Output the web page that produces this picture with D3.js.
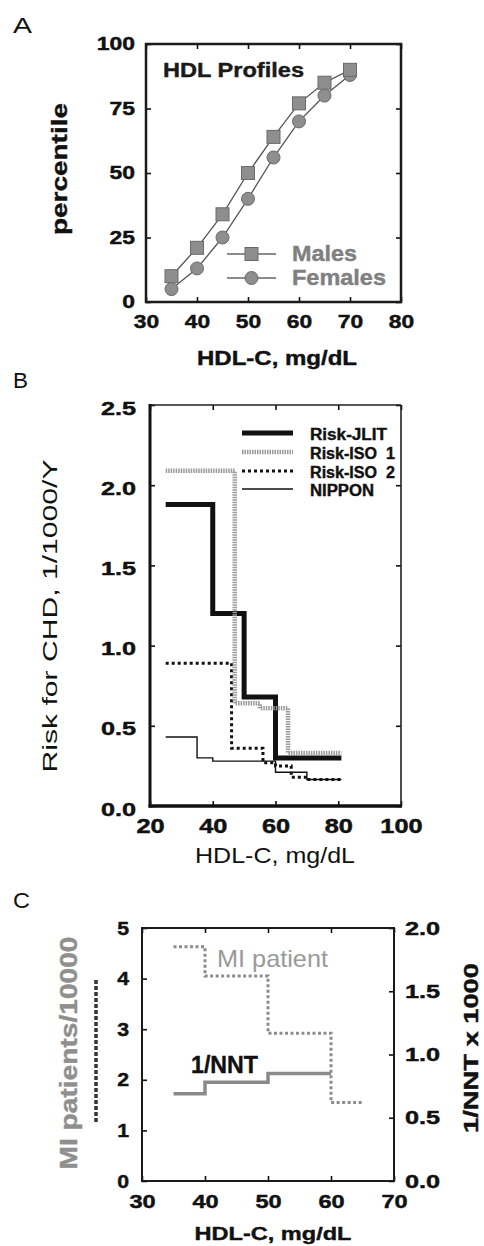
<!DOCTYPE html>
<html><head><meta charset="utf-8">
<script src="https://cdn.jsdelivr.net/npm/d3@7"></script>
<style>html,body{margin:0;padding:0;background:#fff;}svg{display:block;}</style>
</head><body>
<script>
// ---------- DATA ----------
// Panel A
const hdlA = [35, 40, 45, 50, 55, 60, 65, 70];
const malesPct = [10, 21, 34, 50, 64, 77, 85, 90];
const femalesPct = [5, 13, 25, 40, 56, 70, 80, 88];
const xTicksA = [30, 40, 50, 60, 70, 80];
const yTicksA = [0, 25, 50, 75, 100];
const legendA = ["Males", "Females"];
// Panel B (step functions: edges and levels)
const jlitX = [25, 40, 50, 60, 81];
const jlitY = [1.88, 1.20, 0.68, 0.30];
const iso1X = [25, 47, 55, 64, 81];
const iso1Y = [2.09, 0.64, 0.61, 0.33];
const iso2X = [25, 46, 56, 60, 65, 70, 81];
const iso2Y = [0.89, 0.36, 0.27, 0.25, 0.18, 0.165];
const nipponX = [25, 35, 40, 60, 70, 81];
const nipponY = [0.43, 0.30, 0.28, 0.21, 0.165];
const legendB = ["Risk-JLIT", "Risk-ISO  1", "Risk-ISO  2", "NIPPON"];
const xTicksB = [20, 40, 60, 80, 100];
const yTicksB = [0, 0.5, 1.0, 1.5, 2.0, 2.5];
// Panel C
const miX = [35, 40, 50, 60, 65];
const miY = [4.63, 4.05, 2.92, 1.55];
const nntX = [35, 40, 50, 60];
const nntY = [0.69, 0.78, 0.85];
const xTicksC = [30, 40, 50, 60, 70];
const yTicksCL = [0, 1, 2, 3, 4, 5];
const yTicksCR = [0, 0.5, 1.0, 1.5, 2.0];

// ---------- HELPERS ----------
const FONT = '"Liberation Sans", Arial, Helvetica, sans-serif';
const svg = d3.select("body").append("svg").attr("width", 484).attr("height", 1246);
function stretch(sel, f) {
  sel.each(function () {
    const w = this.getComputedTextLength();
    if (w > 0) { this.setAttribute("textLength", w * f); this.setAttribute("lengthAdjust", "spacingAndGlyphs"); }
  });
}
function fit(sel, len) { return sel.attr("textLength", len).attr("lengthAdjust", "spacingAndGlyphs"); }
function styleAxis(g, fs, f, labels) {
  g.select(".domain").remove();
  g.selectAll(".tick line").attr("stroke", "#111").attr("stroke-width", 1.6);
  g.attr("font-family", FONT).attr("font-size", fs);
  g.selectAll("text").attr("font-weight", "bold").attr("fill", "#111")
    .attr("stroke", "#111").attr("stroke-width", 0.45);
  if (!labels) g.selectAll("text").remove();
  else stretch(g.selectAll("text"), f);
}
function txt(x, y, s, o) {
  const t = svg.append("text").attr("x", x).attr("y", y).text(s)
    .attr("font-family", FONT).attr("font-size", o.fs).attr("font-weight", o.fw || "normal")
    .attr("fill", o.fill || "#111").attr("text-anchor", o.anchor || "start");
  if (o.fw === "bold") t.attr("stroke", o.fill || "#111").attr("stroke-width", 0.4);
  if (o.rot) t.attr("transform", `rotate(-90,${x},${y})`);
  if (o.len) fit(t, o.len);
  return t;
}
function steps(xs, ys) { return xs.map((v, i) => [v, ys[Math.min(i, ys.length - 1)]]); }

// ---------- PANEL A ----------
{
  const x = d3.scaleLinear().domain([30, 80]).range([146, 401]);
  const y = d3.scaleLinear().domain([0, 100]).range([302, 44]);
  const fmt = d3.format("d");
  const gb = svg.append("g").attr("transform", "translate(0,302)")
    .call(d3.axisBottom(x).tickValues(xTicksA).tickSize(-5).tickFormat(fmt));
  styleAxis(gb, 19, 1.2, true);
  gb.selectAll("text").attr("dy", null).attr("y", 26);
  const gt = svg.append("g").attr("transform", "translate(0,44)")
    .call(d3.axisTop(x).tickValues(xTicksA).tickSize(-5)); styleAxis(gt, 10, 1, false);
  const gl = svg.append("g").attr("transform", "translate(146,0)")
    .call(d3.axisLeft(y).tickValues(yTicksA).tickSize(-5).tickPadding(11).tickFormat(fmt));
  styleAxis(gl, 18, 1.27, true);
  const gr = svg.append("g").attr("transform", "translate(401,0)")
    .call(d3.axisRight(y).tickValues(yTicksA).tickSize(-5)); styleAxis(gr, 10, 1, false);
  svg.append("rect").attr("x", 146).attr("y", 44).attr("width", 255).attr("height", 258)
    .attr("fill", "none").attr("stroke", "#1a1a1a").attr("stroke-width", 2.5);

  const line = d3.line().x(d => x(d[0])).y(d => y(d[1]));
  const mPts = hdlA.map((v, i) => [v, malesPct[i]]);
  const fPts = hdlA.map((v, i) => [v, femalesPct[i]]);
  svg.append("path").attr("d", line(fPts)).attr("fill", "none").attr("stroke", "#555").attr("stroke-width", 1.3);
  svg.append("path").attr("d", line(mPts)).attr("fill", "none").attr("stroke", "#555").attr("stroke-width", 1.3);
  svg.selectAll(".fc").data(fPts).join("circle").attr("cx", d => x(d[0])).attr("cy", d => y(d[1])).attr("r", 6.5)
    .attr("fill", "#8e8e8e").attr("stroke", "#6a6a6a").attr("stroke-width", 1);
  svg.selectAll(".ms").data(mPts).join("rect").attr("x", d => x(d[0]) - 6.5).attr("y", d => y(d[1]) - 6.5)
    .attr("width", 13).attr("height", 13).attr("fill", "#8e8e8e").attr("stroke", "#6a6a6a").attr("stroke-width", 1);

  // legend
  const ly = [254, 278];
  legendA.forEach((s, i) => {
    svg.append("line").attr("x1", 227).attr("x2", 276).attr("y1", ly[i]).attr("y2", ly[i]).attr("stroke", "#666").attr("stroke-width", 1.3);
    if (i === 0) svg.append("rect").attr("x", 251.5 - 6.5).attr("y", ly[i] - 6.5).attr("width", 13).attr("height", 13)
      .attr("fill", "#8e8e8e").attr("stroke", "#6a6a6a");
    else svg.append("circle").attr("cx", 251.5).attr("cy", ly[i]).attr("r", 6.5).attr("fill", "#8e8e8e").attr("stroke", "#6a6a6a");
    txt(292, ly[i] + 6.5, s, { fs: 22, fw: "bold", fill: "#808080", len: i === 0 ? 65 : 94 });
  });
  txt(163, 77, "HDL Profiles", { fs: 20, fw: "bold", fill: "#1a1a1a", len: 141 });
  txt(13, 33, "A", { fs: 22, len: 19 });
  txt(67, 169, "percentile", { fs: 22, fw: "bold", anchor: "middle", rot: true, len: 132 });
  txt(277, 365, "HDL-C, mg/dL", { fs: 20, fw: "bold", anchor: "middle", len: 160 });
}

// ---------- PANEL B ----------
{
  const x = d3.scaleLinear().domain([20, 100]).range([150, 401]);
  const y = d3.scaleLinear().domain([0, 2.5]).range([806, 405]);
  const gb = svg.append("g").attr("transform", "translate(0,806)")
    .call(d3.axisBottom(x).tickValues(xTicksB).tickSize(-5).tickFormat(d3.format("d")));
  styleAxis(gb, 19.5, 1.3, true);
  gb.selectAll("text").attr("dy", null).attr("y", 27);
  const gt = svg.append("g").attr("transform", "translate(0,405)")
    .call(d3.axisTop(x).tickValues(xTicksB).tickSize(-5)); styleAxis(gt, 10, 1, false);
  const gl = svg.append("g").attr("transform", "translate(150,0)")
    .call(d3.axisLeft(y).tickValues(yTicksB).tickSize(-5).tickPadding(14).tickFormat(d3.format(".1f")));
  styleAxis(gl, 18, 1.4, true);
  gl.selectAll("text").attr("dy", "0.5em");
  const gr = svg.append("g").attr("transform", "translate(401,0)")
    .call(d3.axisRight(y).tickValues(yTicksB).tickSize(-5)); styleAxis(gr, 10, 1, false);
  svg.append("line").attr("x1", 150).attr("x2", 401).attr("y1", 405).attr("y2", 405).attr("stroke", "#222").attr("stroke-width", 1.6);
  svg.append("line").attr("x1", 401).attr("x2", 401).attr("y1", 405).attr("y2", 806).attr("stroke", "#222").attr("stroke-width", 1.6);
  svg.append("line").attr("x1", 150).attr("x2", 150).attr("y1", 404).attr("y2", 807.5).attr("stroke", "#111").attr("stroke-width", 3);
  svg.append("line").attr("x1", 148.5).attr("x2", 402).attr("y1", 806).attr("y2", 806).attr("stroke", "#111").attr("stroke-width", 3.5);

  const line = d3.line().x(d => x(d[0])).y(d => y(d[1])).curve(d3.curveStepAfter);
  const styles = [
    { c: "#111", w: 5, da: null },
    { c: "#9a9a9a", w: 4.5, da: "1.5,1" },
    { c: "#111", w: 3, da: "3,3" },
    { c: "#111", w: 1.4, da: null }
  ];
  const series = [[nipponX, nipponY, 3], [iso2X, iso2Y, 2], [jlitX, jlitY, 0], [iso1X, iso1Y, 1]];
  series.forEach(([xs, ys, si]) => {
    const s = styles[si];
    const p = svg.append("path").attr("d", line(steps(xs, ys))).attr("fill", "none")
      .attr("stroke", s.c).attr("stroke-width", s.w);
    if (s.da) p.attr("stroke-dasharray", s.da);
  });
  const ly = [433, 452, 471, 489];
  const lens = [77, 85, 85, 64];
  legendB.forEach((s, i) => {
    const st = styles[i];
    const l = svg.append("line").attr("x1", 242).attr("x2", 293).attr("y1", ly[i]).attr("y2", ly[i])
      .attr("stroke", st.c).attr("stroke-width", st.w);
    if (st.da) l.attr("stroke-dasharray", st.da);
    txt(310, ly[i] + 6.5, s, { fs: 16, fw: "bold", len: lens[i] }).style("white-space", "pre");
  });
  txt(13, 388, "B", { fs: 22, len: 15 });
  txt(57, 616, "Risk for CHD, 1/1000/Y", { fs: 21, anchor: "middle", rot: true, len: 313 });
  txt(275, 863, "HDL-C, mg/dL", { fs: 22, anchor: "middle", len: 160 });
}

// ---------- PANEL C ----------
{
  const x = d3.scaleLinear().domain([30, 70]).range([142, 394]);
  const yL = d3.scaleLinear().domain([0, 5]).range([1181, 928]);
  const yR = d3.scaleLinear().domain([0, 2]).range([1181, 928]);
  const gb = svg.append("g").attr("transform", "translate(0,1181)")
    .call(d3.axisBottom(x).tickValues(xTicksC).tickSize(-5).tickFormat(d3.format("d")));
  styleAxis(gb, 19, 1.24, true);
  gb.selectAll("text").attr("dy", null).attr("y", 27);
  const gt = svg.append("g").attr("transform", "translate(0,928)")
    .call(d3.axisTop(x).tickValues(xTicksC).tickSize(-5)); styleAxis(gt, 10, 1, false);
  const gl = svg.append("g").attr("transform", "translate(142,0)")
    .call(d3.axisLeft(yL).tickValues(yTicksCL).tickSize(-5).tickPadding(13).tickFormat(d3.format("d")));
  styleAxis(gl, 19, 1.12, true);
  const gr = svg.append("g").attr("transform", "translate(394,0)")
    .call(d3.axisRight(yR).tickValues(yTicksCR).tickSize(-5).tickPadding(11).tickFormat(d3.format(".1f")));
  styleAxis(gr, 19, 1.33, true);
  svg.append("rect").attr("x", 142).attr("y", 928).attr("width", 252).attr("height", 253)
    .attr("fill", "none").attr("stroke", "#1a1a1a").attr("stroke-width", 2);

  const lineL = d3.line().x(d => x(d[0])).y(d => yL(d[1])).curve(d3.curveStepAfter);
  const lineR = d3.line().x(d => x(d[0])).y(d => yR(d[1])).curve(d3.curveStepAfter);
  svg.append("path").attr("d", lineR(steps(nntX, nntY))).attr("fill", "none")
    .attr("stroke", "#8a8a8a").attr("stroke-width", 3.5);
  svg.append("path").attr("d", lineL(steps(miX, miY))).attr("fill", "none")
    .attr("stroke", "#8c8c8c").attr("stroke-width", 3).attr("stroke-dasharray", "3,2.5");

  txt(217, 967, "MI patient", { fs: 24, fill: "#9a9a9a", len: 111 });
  txt(191, 1073, "1/NNT", { fs: 24, fw: "bold", len: 67 });
  txt(13, 908, "C", { fs: 22, len: 17 });
  txt(77, 1053, "MI patients/10000", { fs: 23, fw: "bold", fill: "#8f8f8f", anchor: "middle", rot: true, len: 233 });
  svg.append("line").attr("x1", 96).attr("x2", 96).attr("y1", 980).attr("y2", 1123)
    .attr("stroke", "#333").attr("stroke-width", 3.5).attr("stroke-dasharray", "4,2");
  txt(478, 1048, "1/NNT x 1000", { fs: 21, fw: "bold", anchor: "middle", rot: true, len: 170 });
  txt(273, 1240, "HDL-C, mg/dL", { fs: 19, fw: "bold", anchor: "middle", len: 157 });
}
</script>
</body></html>
